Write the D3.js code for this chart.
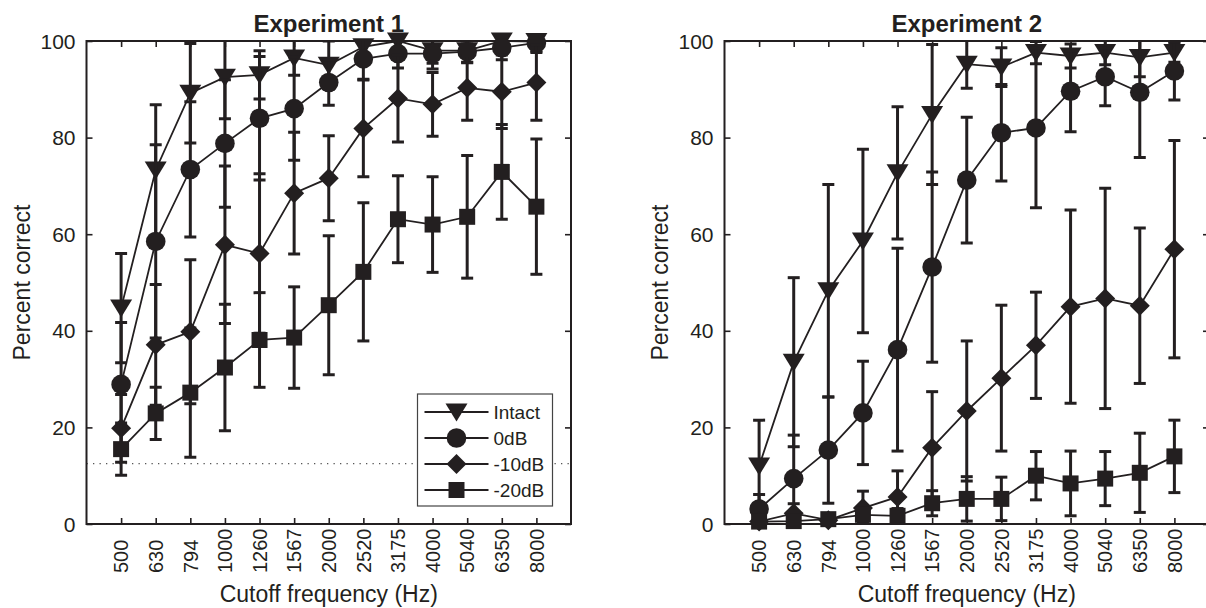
<!DOCTYPE html>
<html>
<head>
<meta charset="utf-8">
<script src="https://cdn.jsdelivr.net/npm/d3@7"></script>
<style>
body { margin: 0; background: #fff; }
text { font-family: "Liberation Sans", Arial, sans-serif; fill: #231f20; }
</style>
</head>
<body>
<div id="chart"></div>
<script>
// x categories (cutoff frequency, Hz)
var freqs = ["500", "630", "794", "1000", "1260", "1567", "2000", "2520", "3175", "4000", "5040", "6350", "8000"];
var yTicks = [0, 20, 40, 60, 80, 100];
var seriesNames = ["Intact", "0dB", "-10dB", "-20dB"];
var chance = 12.5;

// Experiment 1: means and error bar half-lengths
var intact1 = [44.7, 73.3, 89.2, 92.5, 93, 96.5, 95, 98.8, 100, 98, 98, 100, 99.9];
var intact1Err = [11.3, 13.5, 10.3, 8.6, 5, 3.6, 5, 3, 3, 2.6, 2.5, 2, 2];
var db0Exp1 = [28.9, 58.5, 73.4, 78.8, 84, 86, 91.4, 96.3, 97.4, 97.4, 97.8, 98.6, 99.6];
var db0Exp1Err = [12.8, 20, 14, 13.2, 12.8, 10.7, 4.7, 4.2, 3, 3.2, 2.2, 2.5, 2];
var db10Exp1 = [19.8, 37.1, 39.8, 57.8, 56, 68.5, 71.6, 81.9, 88.1, 86.9, 90.3, 89.5, 91.4];
var db10Exp1Err = [7, 12.5, 14.9, 16.3, 16.5, 12.6, 8.8, 10, 9, 6.6, 6.7, 7.6, 7.8];
var db20Exp1 = [15.5, 22.9, 27.2, 32.4, 38.1, 38.6, 45.3, 52.2, 63.1, 62, 63.6, 72.9, 65.7];
var db20Exp1Err = [5.4, 5.4, 13.4, 13.1, 9.8, 10.5, 14.4, 14.3, 9, 9.9, 12.7, 9.8, 14];

// Experiment 2
var intact2 = [12, 33.5, 48.3, 58.6, 72.7, 84.8, 95.2, 94.6, 97.6, 96.9, 97.6, 96.6, 97.6];
var intact2Err = [9.5, 17.5, 22, 19, 13.7, 14.5, 5, 4, 2.3, 2.5, 2.5, 4, 2];
var db0Exp2 = [3.1, 9.4, 15.3, 23, 36.1, 53.2, 71.2, 81, 82, 89.6, 92.6, 89.4, 93.8];
var db0Exp2Err = [3, 9, 11, 10.7, 21, 19.7, 13, 10, 16.5, 8.4, 6, 13.5, 6];
var db10Exp2 = [0.5, 2.2, 0.8, 3.3, 5.6, 15.8, 23.4, 30.2, 37, 45, 46.7, 45.2, 56.9];
var db10Exp2Err = [0.5, 2, 0.8, 3.5, 5.4, 11.6, 14.5, 15.1, 11, 20, 22.8, 16.1, 22.5];
var db20Exp2 = [0.5, 0.6, 1, 1.9, 1.7, 4.3, 5.2, 5.2, 10, 8.4, 9.4, 10.6, 14];
var db20Exp2Err = [0.5, 0.6, 0.8, 1.5, 1.5, 2.6, 4.6, 4.5, 5, 6.7, 5.6, 8.2, 7.5];

var ink = "#231f20";
var shapes = ["tri", "circle", "diamond", "square"];

function markerPath(s){
	if(s == "tri") return "M-11,-8.5L11,-8.5L0,9.5Z";
	if(s == "circle") return "M9.8,0A9.8,9.8 0 1,1 -9.8,0A9.8,9.8 0 1,1 9.8,0Z";
	if(s == "diamond") return "M0,-10L10,0L0,10L-10,0Z";
	return "M-8,-8H8V8H-8Z";
}

var svg = d3.select("#chart")
	.append("svg")
	.attr("width", 1206)
	.attr("height", 608);

var panelW = 484.5, plotTop = 41, plotBottom = 524;

function drawPanel(id, left, title, means, errs, showLegend){
	var x = d3.scalePoint().domain(freqs).range([left, left + panelW]).padding(1);
	var y = d3.scaleLinear().domain([0, 100]).range([plotBottom, plotTop]);
	var g = svg.append("g");

	g.append("clipPath").attr("id", "clip" + id)
		.append("rect")
		.attr("x", left).attr("y", plotTop)
		.attr("width", panelW).attr("height", plotBottom - plotTop);

	// chance level
	if(showLegend){
		g.append("line")
			.attr("x1", left).attr("x2", left + panelW)
			.attr("y1", y(chance)).attr("y2", y(chance))
			.attr("stroke", "#555")
			.attr("stroke-width", 1.2)
			.attr("stroke-dasharray", "1.3,5.2");
	}

	// axes, ticks inward on all sides
	g.append("g").attr("transform", "translate(0," + plotBottom + ")")
		.call(d3.axisBottom(x).tickSizeInner(-6).tickSizeOuter(0).tickFormat(""));
	g.append("g").attr("transform", "translate(0," + plotTop + ")")
		.call(d3.axisTop(x).tickSizeInner(-6).tickSizeOuter(0).tickFormat(""));
	g.append("g").attr("transform", "translate(" + left + ",0)")
		.call(d3.axisLeft(y).tickValues(yTicks).tickSizeInner(-6).tickSizeOuter(0).tickFormat(""));
	g.append("g").attr("transform", "translate(" + (left + panelW) + ",0)")
		.call(d3.axisRight(y).tickValues(yTicks).tickSizeInner(-6).tickSizeOuter(0).tickFormat(""));
	g.selectAll(".domain").remove();
	g.selectAll(".tick line").attr("stroke", ink).attr("stroke-width", 1.6);

	g.append("rect")
		.attr("x", left).attr("y", plotTop)
		.attr("width", panelW).attr("height", plotBottom - plotTop)
		.attr("fill", "none").attr("stroke", ink).attr("stroke-width", 2);

	// tick labels
	g.selectAll(".ylab").data(yTicks).enter()
		.append("text")
		.attr("x", left - 11).attr("y", function(d){ return y(d); })
		.attr("dy", "0.36em")
		.attr("text-anchor", "end")
		.style("font-size", "21px")
		.text(function(d){ return d; });
	g.selectAll(".xlab").data(freqs).enter()
		.append("text")
		.attr("transform", function(d){ return "translate(" + x(d) + "," + (plotBottom + 49) + ") rotate(-90)"; })
		.attr("dy", "0.36em")
		.attr("text-anchor", "start")
		.style("font-size", "20px")
		.text(function(d){ return d; });

	// titles
	g.append("text")
		.attr("x", left + panelW / 2).attr("y", 31.5)
		.attr("text-anchor", "middle")
		.style("font-size", "24px").style("font-weight", "bold")
		.text(title);
	g.append("text")
		.attr("x", left + panelW / 2).attr("y", 602)
		.attr("text-anchor", "middle")
		.style("font-size", "23px")
		.text("Cutoff frequency (Hz)");
	g.append("text")
		.attr("transform", "translate(" + (left - 57) + "," + ((plotTop + plotBottom) / 2) + ") rotate(-90)")
		.attr("text-anchor", "middle")
		.style("font-size", "23px")
		.text("Percent correct");

	// series
	var line = d3.line()
		.x(function(d, i){ return x(freqs[i]); })
		.y(function(d){ return y(d); });

	for(var s = 0; s < means.length; s++){
		var m = means[s], e = errs[s];
		var eb = g.append("g").attr("clip-path", "url(#clip" + id + ")");
		eb.selectAll("vert").data(m).enter()
			.append("line")
			.attr("x1", function(d, i){ return x(freqs[i]); })
			.attr("x2", function(d, i){ return x(freqs[i]); })
			.attr("y1", function(d, i){ return y(d - e[i]); })
			.attr("y2", function(d, i){ return y(d + e[i]); })
			.attr("stroke", ink).attr("stroke-width", 3);
		eb.selectAll("capHi").data(m).enter()
			.append("line")
			.attr("x1", function(d, i){ return x(freqs[i]) - 6; })
			.attr("x2", function(d, i){ return x(freqs[i]) + 6; })
			.attr("y1", function(d, i){ return y(d + e[i]); })
			.attr("y2", function(d, i){ return y(d + e[i]); })
			.attr("stroke", ink).attr("stroke-width", 3);
		eb.selectAll("capLo").data(m).enter()
			.append("line")
			.attr("x1", function(d, i){ return x(freqs[i]) - 6; })
			.attr("x2", function(d, i){ return x(freqs[i]) + 6; })
			.attr("y1", function(d, i){ return y(d - e[i]); })
			.attr("y2", function(d, i){ return y(d - e[i]); })
			.attr("stroke", ink).attr("stroke-width", 3);

		g.append("path")
			.datum(m)
			.attr("d", line)
			.attr("fill", "none")
			.attr("stroke", ink).attr("stroke-width", 1.8);

		g.selectAll("mark").data(m).enter()
			.append("path")
			.attr("transform", function(d, i){ return "translate(" + x(freqs[i]) + "," + y(d) + ")"; })
			.attr("d", markerPath(shapes[s]))
			.attr("fill", ink);
	}

	// legend
	if(showLegend){
		var lx = left + 331, ly = 394;
		var lg = g.append("g");
		lg.append("rect")
			.attr("x", lx).attr("y", ly)
			.attr("width", 135).attr("height", 112)
			.attr("fill", "#fff").attr("stroke", "#444").attr("stroke-width", 1.2);
		var rows = lg.selectAll("row").data(seriesNames).enter()
			.append("g")
			.attr("transform", function(d, i){ return "translate(" + lx + "," + (ly + 18 + i * 26) + ")"; });
		rows.append("line")
			.attr("x1", 7).attr("x2", 71)
			.attr("stroke", ink).attr("stroke-width", 1.8);
		rows.append("path")
			.attr("transform", "translate(39,0)")
			.attr("d", function(d, i){ return markerPath(shapes[i]); })
			.attr("fill", ink);
		rows.append("text")
			.attr("x", 76).attr("dy", "0.36em")
			.style("font-size", "19px")
			.text(function(d){ return d; });
	}
}

drawPanel(1, 86.5, "Experiment 1",
	[intact1, db0Exp1, db10Exp1, db20Exp1],
	[intact1Err, db0Exp1Err, db10Exp1Err, db20Exp1Err], true);
drawPanel(2, 724.5, "Experiment 2",
	[intact2, db0Exp2, db10Exp2, db20Exp2],
	[intact2Err, db0Exp2Err, db10Exp2Err, db20Exp2Err], false);
</script>
</body>
</html>
